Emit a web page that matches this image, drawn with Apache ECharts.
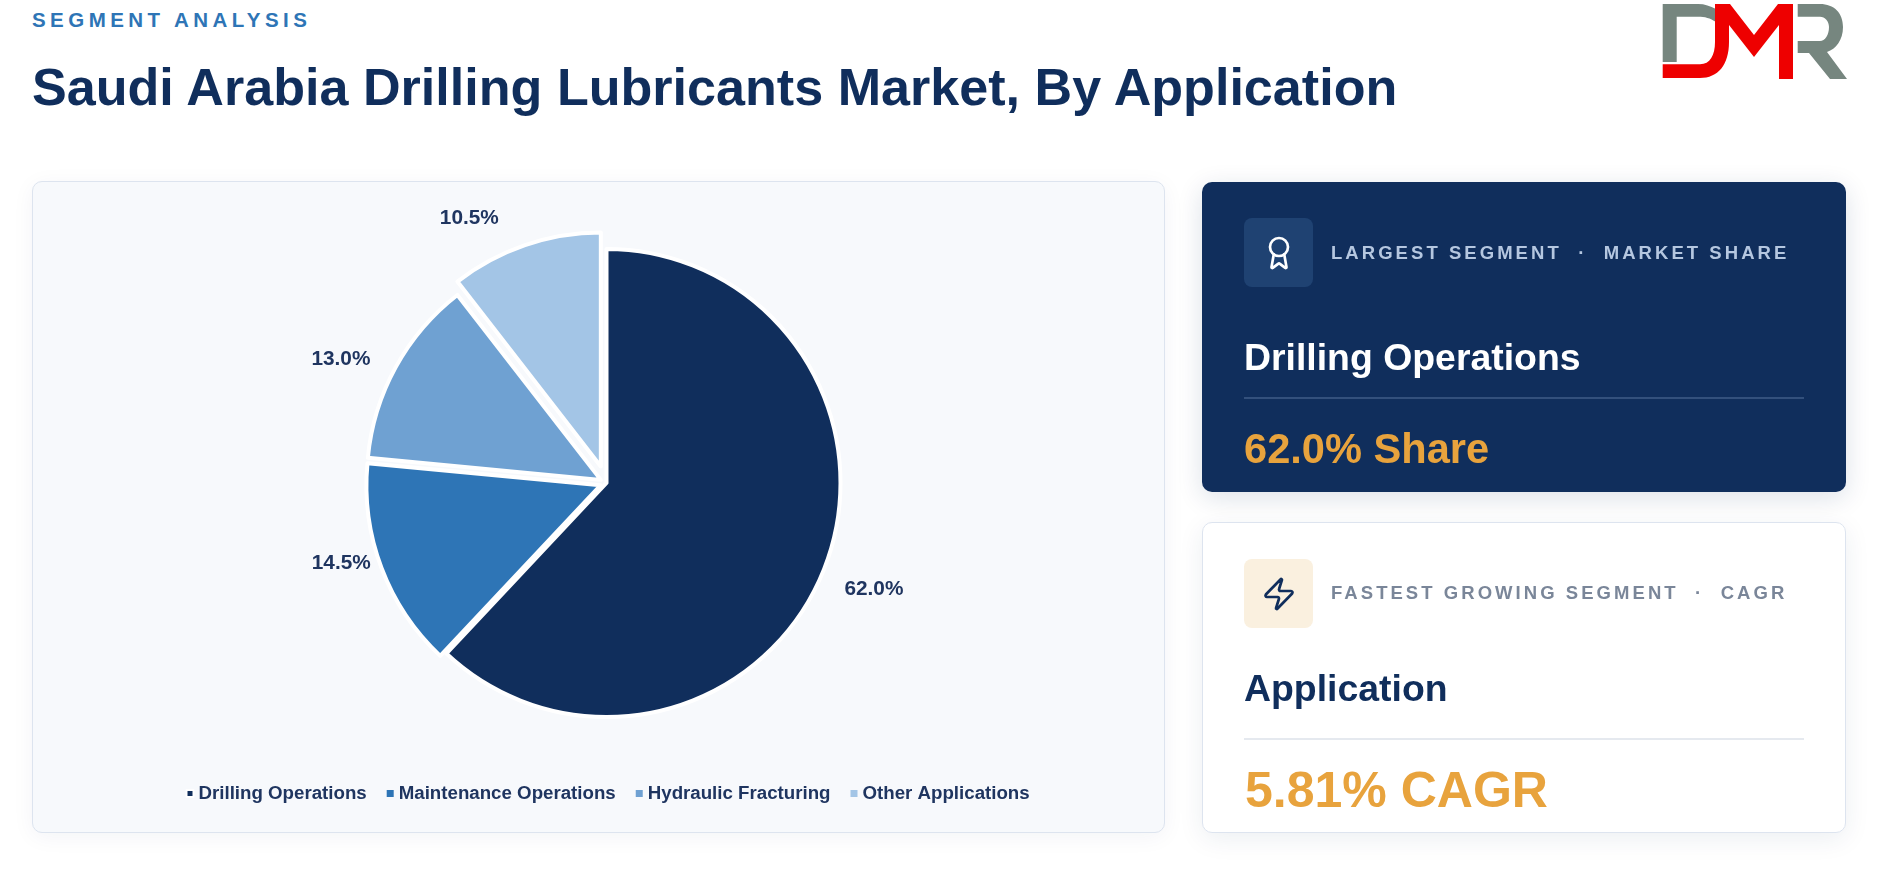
<!DOCTYPE html>
<html>
<head>
<meta charset="utf-8">
<title>Saudi Arabia Drilling Lubricants Market, By Application</title>
<script src="https://cdn.jsdelivr.net/npm/echarts@6/dist/echarts.min.js"></script>
<style>
html,body{margin:0;padding:0;background:#fff;width:1884px;height:870px;overflow:hidden;font-family:"Liberation Sans",Arial,sans-serif;font-weight:bold}
.abs{position:absolute;white-space:nowrap}
.eyebrow{left:32px;top:8px;font-size:20.5px;line-height:24px;letter-spacing:4.45px;color:#2e75b6}
.title{left:32px;top:56px;font-size:52.1px;line-height:62px;color:#102e5c}
.card{position:absolute;box-sizing:border-box;border-radius:10px}
#chartCard{left:32px;top:181px;width:1133px;height:652px;background:#f7f9fc;border:1.5px solid #dde4ef;box-shadow:0 4px 22px rgba(16,46,92,.05)}
#chart{position:absolute;left:32px;top:181px;width:1133px;height:652px}
#darkCard{left:1202px;top:182px;width:644px;height:310px;background:#102e5c;box-shadow:0 6px 26px rgba(16,46,92,.14)}
#lightCard{left:1202px;top:522px;width:644px;height:311px;background:#fff;border:1.5px solid #dde4ef;box-shadow:0 6px 26px rgba(16,46,92,.08)}
.icon{position:absolute;width:69px;height:69px;border-radius:8px}
.icon svg{position:absolute;left:16.5px;top:16.5px}
.kicker{font-size:18.5px;line-height:24px;letter-spacing:3.05px}
.rule{position:absolute;left:1244px;width:560px;height:1.5px}
</style>
</head>
<body>
<div class="abs eyebrow">SEGMENT ANALYSIS</div>
<div class="abs title">Saudi Arabia Drilling Lubricants Market, By Application</div>

<svg class="abs" style="left:1650px;top:0" width="200" height="90" viewBox="0 0 200 90">
  <path fill="#76867f" d="M12.7 4H48C55 4 60 6 66 9V22C60 18 55 16.7 48 16.7H26.7V62H12.7Z"/>
  <path fill="#ee0000" d="M65 4H80L104 35L128 4H143V79H129V25L104 57L79 25V42C79 65 68 78 50 78H12.7V64.3H50C60 64.3 65 55 65 42Z"/>
  <path fill="#76867f" d="M147.7 4H170C184 4 193 13 193 27C193 40 186 49 177 52L197 79H180L159 53H147.7V41H170C175 41 179 35 179 27C179 21 175 16.7 170 16.7H147.7Z"/>
</svg>

<div class="card" id="chartCard"></div>
<div id="chart"></div>

<div class="card" id="darkCard"></div>
<div class="icon" style="left:1244px;top:218px;background:#1f4272">
  <svg width="36" height="36" viewBox="0 0 24 24" fill="none" stroke="#fff" stroke-width="1.8" stroke-linecap="round" stroke-linejoin="round">
    <path d="m15.477 12.89 1.515 8.526a.5.5 0 0 1-.81.47l-3.58-2.687a1 1 0 0 0-1.197 0l-3.586 2.686a.5.5 0 0 1-.81-.469l1.514-8.526"/>
    <circle cx="12" cy="8" r="6"/>
  </svg>
</div>
<div class="abs kicker" style="left:1331px;top:241px;color:#b5c7e0">LARGEST SEGMENT &nbsp;·&nbsp; MARKET SHARE</div>
<div class="abs" style="left:1244px;top:334px;font-size:37.4px;line-height:46px;color:#fff">Drilling Operations</div>
<div class="rule" style="top:397px;background:#33507c"></div>
<div class="abs" style="left:1244px;top:424px;font-size:41.6px;line-height:50px;color:#e8a33d">62.0% Share</div>

<div class="card" id="lightCard"></div>
<div class="icon" style="left:1244px;top:559px;background:#faf0df">
  <svg width="36" height="36" viewBox="0 0 24 24" fill="none" stroke="#102e5c" stroke-width="1.8" stroke-linecap="round" stroke-linejoin="round">
    <path d="M4 14a1 1 0 0 1-.78-1.63l9.9-10.2a.5.5 0 0 1 .86.46l-1.92 6.02A1 1 0 0 0 13 10h7a1 1 0 0 1 .78 1.63l-9.9 10.2a.5.5 0 0 1-.86-.46l1.92-6.02A1 1 0 0 0 11 14z"/>
  </svg>
</div>
<div class="abs kicker" style="left:1331px;top:581px;color:#7a8699">FASTEST GROWING SEGMENT &nbsp;·&nbsp; CAGR</div>
<div class="abs" style="left:1244px;top:664px;font-size:37.4px;line-height:48px;color:#102e5c">Application</div>
<div class="rule" style="top:738px;background:#e5e9ef"></div>
<div class="abs" style="left:1245px;top:760px;font-size:50px;line-height:60px;color:#e8a33d">5.81% CAGR</div>

<script>
var categories = ['Drilling Operations', 'Maintenance Operations', 'Hydraulic Fracturing', 'Other Applications'];
var shares = [62.0, 14.5, 13.0, 10.5];
var colors = ['#102e5c', '#2e75b6', '#6fa1d2', '#a3c5e6'];
// how far each slice is pulled out of the pie
var pullOut = [0, 6.5, 6.5, 17.5];
var labelReach = [16, 10, 10, 10];
var labelShift = [[0.5, 14], [3.6, -8.4], [-11.6, -3], [-18, -17]];

var chart = echarts.init(document.getElementById('chart'));

// selectedOffset is per series, so every slice gets its own series;
// the other slices stay in it as invisible parts to keep the angles
var series = categories.map(function (name, i) {
    return {
        type: 'pie',
        center: [574.5, 302],
        radius: [0, 234],
        startAngle: 90,
        clockwise: true,
        animation: false,
        silent: true,
        selectedMode: 'multiple',
        selectedOffset: pullOut[i],
        labelLayout: {dx: labelShift[i][0], dy: labelShift[i][1]},
        data: categories.map(function (n, j) {
            var own = i === j;
            return {
                name: n,
                value: shares[j],
                selected: own,
                itemStyle: own ? {color: colors[j], borderColor: '#fff', borderWidth: 4} : {color: 'transparent', borderWidth: 0},
                label: {
                    show: own,
                    position: 'outside',
                    formatter: function (p) { return p.value.toFixed(1) + '%'; },
                    color: '#1f3560',
                    fontFamily: 'Liberation Sans',
                    fontWeight: 'bold',
                    fontSize: 20.8
                },
                labelLine: {show: false, length: labelReach[i], length2: 0}
            };
        })
    };
});

chart.setOption({
    animation: false,
    legend: {
        top: 598,
        left: 148.5,
        itemWidth: 7,
        itemHeight: 7,
        itemGap: 20,
        icon: 'rect',
        selectedMode: false,
        textStyle: {color: '#1f3560', fontFamily: 'Liberation Sans', fontWeight: 'bold', fontSize: 18.7},
        data: categories.map(function (n, i) {
            return {name: n, itemStyle: {color: colors[i]}};
        })
    },
    series: series
});
</script>
</body>
</html>
